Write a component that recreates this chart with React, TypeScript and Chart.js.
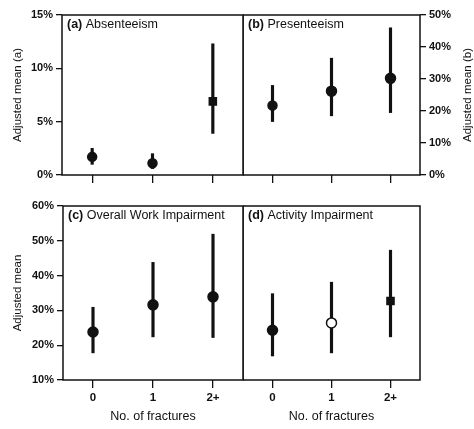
import React, { useEffect, useRef } from 'react';
import { Chart, registerables } from 'chart.js';

Chart.register(...registerables);

const categories = ['0', '1', '2+'];

const absMean = [1.7, 1.1, 6.9];
const absLow = [1.0, 0.6, 3.9];
const absHigh = [2.5, 2.0, 12.3];

const presMean = [21.7, 26.2, 30.2];
const presLow = [16.7, 18.5, 19.5];
const presHigh = [28.0, 36.5, 46.0];

const owiMean = [23.8, 31.6, 33.9];
const owiLow = [17.8, 22.4, 22.2];
const owiHigh = [30.9, 43.8, 51.9];

const actMean = [24.3, 26.4, 32.7];
const actLow = [16.9, 17.8, 22.4];
const actHigh = [34.8, 38.1, 47.3];

const absTicks = [0, 15, 5];
const presTicks = [0, 50, 10];
const impTicks = [10, 60, 10];

const INK = '#111111';
const FONT = "'Liberation Sans', Arial, sans-serif";

type PanelProps = {
  left: number;
  top: number;
  width: number;
  height: number;
  letter: string;
  name: string;
  mean: number[];
  low: number[];
  high: number[];
  ticks: number[];
  yPos: 'left' | 'right' | 'none';
  yAxisWidth: number;
  xAxisHeight: number;
  pad: { top: number; left: number; right: number };
  showXLabels: boolean;
  yTitle?: string;
  rightTitle?: string;
  styles: string[];
  fills: string[];
  radii: number[];
};

function Panel(p: PanelProps) {
  const ref = useRef<HTMLCanvasElement | null>(null);
  useEffect(() => {
    if (!ref.current) return;
    const boxPlugin = {
      id: 'box' + p.letter,
      afterDraw(chart: any) {
        const { ctx, chartArea } = chart;
        const { left, top, right, bottom } = chartArea;
        ctx.save();
        ctx.strokeStyle = INK;
        ctx.lineWidth = 1.5;
        ctx.strokeRect(left, top, right - left, bottom - top);
        ctx.fillStyle = INK;
        ctx.textBaseline = 'middle';
        ctx.textAlign = 'left';
        ctx.font = `bold 12.5px ${FONT}`;
        const lbl = `(${p.letter})`;
        ctx.fillText(lbl, left + 5, top + 10);
        const w = ctx.measureText(lbl).width;
        ctx.font = `12.5px ${FONT}`;
        ctx.fillText(' ' + p.name, left + 5 + w, top + 10);
        if (p.rightTitle) {
          ctx.save();
          ctx.font = `11.5px ${FONT}`;
          ctx.textAlign = 'center';
          ctx.translate(chart.width - 6, (top + bottom) / 2);
          ctx.rotate(-Math.PI / 2);
          ctx.fillText(p.rightTitle, 0, 0);
          ctx.restore();
        }
        ctx.restore();
      },
    };
    const chart = new Chart(ref.current, {
      type: 'bar',
      data: {
        labels: categories,
        datasets: [
          {
            type: 'bar',
            data: p.low.map((l, i) => [l, p.high[i]]) as any,
            backgroundColor: INK,
            barThickness: 2.5,
            borderWidth: 0,
            order: 2,
          } as any,
          {
            type: 'line',
            data: p.mean,
            showLine: false,
            pointStyle: p.styles as any,
            pointRadius: p.radii,
            pointBackgroundColor: p.fills,
            pointBorderColor: INK,
            pointBorderWidth: 1.5,
            order: 1,
          } as any,
        ],
      },
      options: {
        animation: false,
        responsive: false,
        maintainAspectRatio: false,
        layout: { autoPadding: false, padding: { top: p.pad.top, left: p.pad.left, right: p.pad.right, bottom: 0 } },
        plugins: { legend: { display: false }, tooltip: { enabled: false } },
        scales: {
          x: {
            type: 'category',
            offset: true,
            grid: { offset: false, drawOnChartArea: false, drawTicks: true, tickLength: 8, color: INK, lineWidth: 1.3 },
            border: { display: false },
            ticks: {
              display: p.showXLabels,
              color: INK,
              padding: 3,
              font: { family: FONT, size: 11.5, weight: 'bold' },
            },
            title: {
              display: p.showXLabels,
              text: 'No. of fractures',
              color: INK,
              font: { family: FONT, size: 12.5 },
              padding: { top: 4, bottom: 5 },
            },
            afterFit: (s: any) => {
              s.height = p.xAxisHeight;
            },
          },
          y: {
            display: p.yPos !== 'none',
            position: p.yPos === 'right' ? 'right' : 'left',
            min: p.ticks[0],
            max: p.ticks[1],
            grid: { drawOnChartArea: false, drawTicks: true, tickLength: 6, color: INK, lineWidth: 1.3 },
            border: { display: false },
            ticks: {
              stepSize: p.ticks[2],
              color: INK,
              padding: 3,
              font: { family: FONT, size: 11, weight: 'bold' },
              callback: (v: any) => `${v}%`,
            },
            title: {
              display: !!p.yTitle,
              text: p.yTitle || '',
              color: INK,
              font: { family: FONT, size: 11.5 },
              padding: { top: 11, bottom: 0 },
            },
            afterFit: (s: any) => {
              s.width = p.yAxisWidth;
            },
          },
        },
      } as any,
      plugins: [boxPlugin],
    });
    return () => chart.destroy();
  }, []);
  return (
    <canvas
      ref={ref}
      width={p.width}
      height={p.height}
      style={{ position: 'absolute', left: p.left, top: p.top, width: p.width, height: p.height }}
    />
  );
}

export default function App() {
  const circ = ['circle', 'circle', 'circle'];
  const dark = [INK, INK, INK];
  return (
    <div style={{ position: 'absolute', left: 0, top: 0, width: 474, height: 429, background: '#fff', overflow: 'hidden' }}>
      <Panel
        left={0} top={0} width={246} height={190}
        letter="a" name="Absenteeism"
        mean={absMean} low={absLow} high={absHigh} ticks={absTicks}
        yPos="left" yAxisWidth={62} xAxisHeight={15}
        pad={{ top: 15, left: 0, right: 3 }}
        showXLabels={false}
        yTitle="Adjusted mean (a)"
        styles={['circle', 'circle', 'rect']} fills={dark} radii={[4.5, 4.5, 5]}
      />
      <Panel
        left={243} top={0} width={231} height={190}
        letter="b" name="Presenteeism"
        mean={presMean} low={presLow} high={presHigh} ticks={presTicks}
        yPos="right" yAxisWidth={54} xAxisHeight={15}
        pad={{ top: 15, left: 0, right: 0 }}
        showXLabels={false}
        rightTitle="Adjusted mean (b)"
        styles={circ} fills={dark} radii={[4.5, 5, 5]}
      />
      <Panel
        left={0} top={190} width={246} height={239}
        letter="c" name="Overall Work Impairment"
        mean={owiMean} low={owiLow} high={owiHigh} ticks={impTicks}
        yPos="left" yAxisWidth={63} xAxisHeight={49}
        pad={{ top: 16, left: 0, right: 3 }}
        showXLabels={true}
        yTitle="Adjusted mean"
        styles={circ} fills={dark} radii={[5, 5, 5]}
      />
      <Panel
        left={243} top={190} width={181} height={239}
        letter="d" name="Activity Impairment"
        mean={actMean} low={actLow} high={actHigh} ticks={impTicks}
        yPos="none" yAxisWidth={0} xAxisHeight={49}
        pad={{ top: 16, left: 0, right: 4 }}
        showXLabels={true}
        styles={['circle', 'circle', 'rect']} fills={[INK, '#ffffff', INK]} radii={[5, 5, 5]}
      />
    </div>
  );
}
